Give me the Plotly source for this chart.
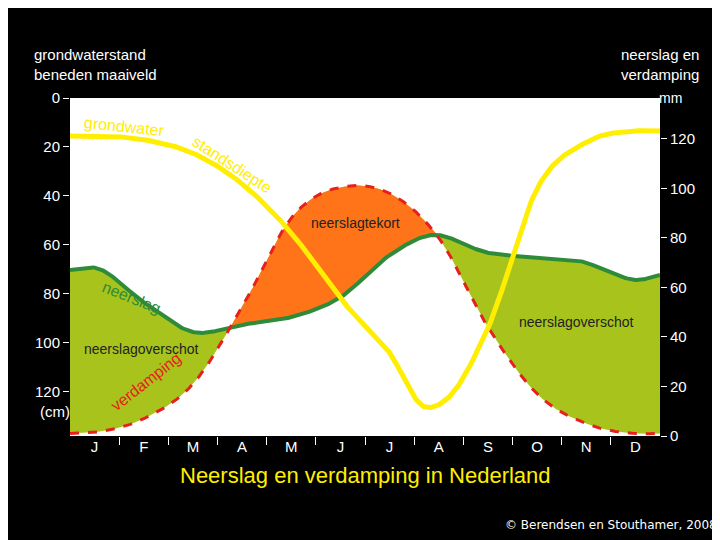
import numpy as np
import plotly.graph_objects as go

months = ["J", "F", "M", "A", "M", "J", "J", "A", "S", "O", "N", "D"]

# readings (x in months, 0..12)
neerslag_x = [0, 0.5, 1.5, 2.5, 3.5, 4.5, 5.5, 6.5, 7.3, 8.5, 9.5, 10.5, 11.0, 11.5, 12]
neerslag_mm = [67, 68, 54, 42, 45, 48, 56, 73, 81, 74, 72, 70, 66, 63, 65]

verdamping_x = [0, 0.5, 1.5, 2.5, 3.5, 4.5, 5.7, 6.5, 7.5, 8.5, 9.5, 10.5, 11.5, 12]
verdamping_mm = [1, 1.5, 7, 21, 52, 88, 101, 98, 80, 44, 17, 5, 1, 1]

grondwater_x = [0, 0.5, 1.5, 2.5, 3.5, 4.5, 5.5, 6.5, 7.2, 7.6, 8.5, 9.5, 10.5, 11.5, 12]
grondwater_cm = [15.5, 15.5, 17, 22.5, 35, 55, 82, 104, 126, 124, 94, 37, 18, 13.5, 13.5]


def smooth(xs, ys, grid):
    # cubic Hermite through the read points
    xs = np.asarray(xs, float)
    ys = np.asarray(ys, float)
    m = np.gradient(ys, xs)
    out = np.empty_like(grid)
    for k, g in enumerate(grid):
        i = min(max(np.searchsorted(xs, g) - 1, 0), len(xs) - 2)
        h = xs[i + 1] - xs[i]
        t = (g - xs[i]) / h
        out[k] = ((2 * t**3 - 3 * t**2 + 1) * ys[i] + (t**3 - 2 * t**2 + t) * h * m[i]
                  + (-2 * t**3 + 3 * t**2) * ys[i + 1] + (t**3 - t**2) * h * m[i + 1])
    return out


grid = np.linspace(0, 12, 481)
n = smooth(neerslag_x, neerslag_mm, grid)
v = smooth(verdamping_x, verdamping_mm, grid)
g = smooth(grondwater_x, grondwater_cm, grid)
top = np.maximum(n, v)

fig = go.Figure()
fig.add_trace(go.Scatter(x=grid, y=v, mode="lines", line=dict(width=0)))
fig.add_trace(go.Scatter(x=grid, y=n, mode="lines", line=dict(width=0),
                         fill="tonexty", fillcolor="#a8c41c"))
fig.add_trace(go.Scatter(x=grid, y=n, mode="lines", line=dict(width=0)))
fig.add_trace(go.Scatter(x=grid, y=top, mode="lines", line=dict(width=0),
                         fill="tonexty", fillcolor="#ff7418"))
fig.add_trace(go.Scatter(x=grid, y=n, mode="lines",
                         line=dict(color="#2e8b3a", width=4)))
fig.add_trace(go.Scatter(x=grid, y=v, mode="lines",
                         line=dict(color="#e8201c", width=3, dash="dash")))
fig.add_trace(go.Scatter(x=grid, y=g, yaxis="y2", mode="lines",
                         line=dict(color="#ffee00", width=5)))
fig.add_trace(go.Scatter(x=[0], y=[0], xaxis="x2", mode="markers", marker=dict(opacity=0)))

tickfont = dict(color="white", size=15, family="Liberation Sans")
fig.update_layout(
    width=720, height=540, showlegend=False,
    paper_bgcolor="black", plot_bgcolor="white",
    margin=dict(l=62, r=68, t=90, b=112),
    font=dict(family="Liberation Sans"),
    xaxis=dict(range=[0, 12], tickvals=[i + 0.5 for i in range(12)], ticktext=months,
               showgrid=False, zeroline=False, ticks="", tickfont=tickfont),
    xaxis2=dict(range=[0, 12], overlaying="x", tickvals=list(range(1, 12)),
                ticks="outside", ticklen=8, tickcolor="white", showticklabels=False,
                showgrid=False, zeroline=False, anchor="y"),
    yaxis=dict(range=[0, 136.5], side="right", tickvals=list(range(0, 121, 20)),
               ticks="outside", tickcolor="white", ticklen=6, showgrid=False, zeroline=False,
               tickfont=tickfont),
    yaxis2=dict(range=[138, 0], overlaying="y", side="left", tickvals=list(range(0, 121, 20)),
                ticks="outside", tickcolor="white", ticklen=6, showgrid=False, zeroline=False,
                tickfont=tickfont),
)

ann = [
    dict(x=-0.065, y=1.16, xref="paper", yref="paper", text="grondwaterstand<br>beneden maaiveld",
         xanchor="left", font=dict(color="white", size=15), align="left"),
    dict(x=1.07, y=1.16, xref="paper", yref="paper", text="neerslag en<br>verdamping",
         xanchor="right", font=dict(color="white", size=15), align="left"),
    dict(x=1.04, y=1.03, xref="paper", yref="paper", text="mm",
         font=dict(color="white", size=14)),
    dict(x=-0.055, y=0.04, xref="paper", yref="paper", text="(cm)",
         font=dict(color="white", size=15)),
    dict(x=0.5, y=-0.16, xref="paper", yref="paper", text="Neerslag en verdamping in Nederland",
         font=dict(color="#ffee00", size=22)),
    dict(x=1.1, y=-0.29, xref="paper", yref="paper", text="© Berendsen en Stouthamer, 2008",
         xanchor="right", font=dict(color="white", size=12, family="DejaVu Sans")),
    dict(x=1.1, y=11.5, yref="y2", text="grondwater", textangle=6,
         font=dict(color="#ffee00", size=16)),
    dict(x=3.3, y=27, yref="y2", text="standsdiepte", textangle=33,
         font=dict(color="#ffee00", size=16)),
    dict(x=1.25, y=56, yref="y", text="neerslag", textangle=22,
         font=dict(color="#2e8b3a", size=16)),
    dict(x=1.55, y=22, yref="y", text="verdamping", textangle=-38,
         font=dict(color="#e8201c", size=16)),
    dict(x=5.8, y=86, yref="y", text="neerslagtekort",
         font=dict(color="#222", size=14)),
    dict(x=1.45, y=35, yref="y", text="neerslagoverschot",
         font=dict(color="#222", size=14)),
    dict(x=10.3, y=46, yref="y", text="neerslagoverschot",
         font=dict(color="#222", size=14)),
]
for a in ann:
    a.setdefault("showarrow", False)
    a.setdefault("xref", "x")
fig.update_layout(annotations=ann)

fig.write_html("out.html")
